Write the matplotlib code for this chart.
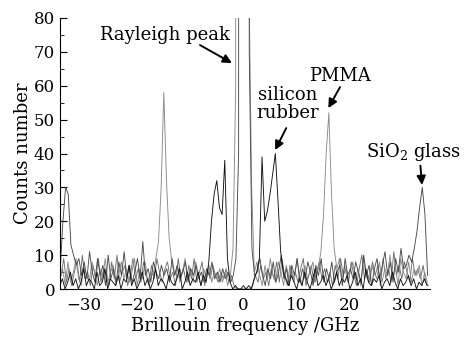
import numpy as np
import matplotlib
matplotlib.use("Agg")
import matplotlib.pyplot as plt
from matplotlib.ticker import MultipleLocator

plt.rcParams['font.family'] = ['DejaVu Serif']
plt.rcParams['mathtext.fontset'] = 'dejavuserif'

# spectra, 0.5 GHz sampling, first sample at x0
step = 0.5

pmma_x0 = -34.4
pmma_counts = [
    3, 6, 1, 8, 2, 5, 9, 3, 1, 7,
    4, 2, 8, 5, 1, 6, 3, 9, 2, 5,
    7, 1, 4, 8, 3, 6, 2, 5, 9, 1,
    6, 3, 8, 2, 5, 4, 9, 14, 30, 58,
    32, 15, 8, 4, 7, 2, 5, 9, 3, 6,
    2, 8, 4, 1, 6, 3, 7, 2, 5, 3,
    6, 2, 5, 1, 4, 12, 60, 5000, 5000, 5000,
    5000, 90, 30, 5, 8, 4, 1, 7, 3, 9,
    4, 2, 8, 5, 1, 7, 3, 6, 2, 9,
    4, 1, 7, 3, 5, 8, 2, 6, 11, 22,
    40, 52, 28, 12, 6, 9, 3, 7, 2, 5,
    8, 3, 6, 1, 9, 4, 2, 7, 5, 3,
    8, 2, 6, 4, 10, 3, 7, 1, 9, 5,
    3, 8, 2, 6, 4, 7, 1, 5, 2,
]

sio2_x0 = -34.35
sio2_counts = [
    6, 20, 30, 28, 13, 10, 7, 9, 4, 8,
    3, 11, 5, 2, 9, 4, 7, 1, 10, 3,
    6, 2, 8, 4, 11, 3, 7, 2, 5, 9,
    3, 14, 4, 6, 2, 8, 5, 3, 7, 4,
    6, 2, 9, 4, 7, 3, 5, 8, 2, 6,
    4, 7, 3, 5, 2, 6, 4, 8, 3, 5,
    2, 6, 3, 5, 2, 4, 9, 40, 5000, 5000,
    5000, 70, 12, 4, 5, 9, 4, 1, 6, 3,
    8, 2, 5, 10, 3, 6, 1, 7, 4, 9,
    2, 6, 3, 8, 5, 1, 7, 4, 9, 2,
    6, 3, 8, 2, 5, 7, 1, 9, 4, 6,
    3, 8, 5, 2, 10, 4, 7, 1, 6, 9,
    3, 7, 11, 4, 8, 2, 9, 5, 12, 6,
    7, 10, 8, 12, 17, 24, 30, 22, 4,
]

rubber_x0 = -34.45
rubber_counts = [
    1, 3, 0, 2, 5, 1, 3, 0, 2, 6,
    1, 3, 2, 0, 5, 1, 2, 6, 0, 3,
    2, 1, 4, 0, 3, 2, 7, 1, 3, 0,
    2, 5, 1, 3, 0, 2, 6, 1, 3, 2,
    0, 4, 2, 1, 3, 6, 0, 2, 5, 1,
    3, 2, 5, 1, 4, 2, 8, 20, 28, 32,
    24, 22, 38, 9, 2, 0, 1, 0, 0, 1,
    0, 1, 0, 3, 5, 9, 39, 20, 23, 28,
    34, 40, 26, 11, 5, 3, 1, 4, 2, 0,
    3, 1, 5, 2, 0, 3, 6, 1, 2, 4,
    1, 3, 0, 2, 5, 1, 3, 2, 4, 0,
    2, 5, 1, 3, 0, 6, 2, 1, 3, 2,
    4, 0, 2, 3, 1, 5, 2, 0, 3, 1,
    2, 4, 1, 3, 0, 2, 1, 3, 1,
]

# background-only run
blank_x0 = -34.2
blank_counts = [
    4, 9, 2, 6, 1, 5, 8, 2, 10, 3,
    5, 1, 7, 3, 9, 2, 6, 4, 1, 8,
    3, 10, 2, 5, 7, 1, 4, 9, 3, 6,
    2, 8, 4, 1, 7, 3, 9, 5, 2, 6,
    8, 3, 5, 1, 9, 4, 6, 2, 7, 3,
    9, 2, 5, 8, 1, 6, 3, 7, 4, 2,
    5, 3, 6, 2, 4, 1, 0, 0, 0, 0,
    0, 0, 1, 4, 2, 7, 3, 5, 1, 6,
    3, 8, 2, 9, 4, 1, 7, 3, 5, 2,
    6, 9, 1, 4, 7, 2, 5, 8, 3, 6,
    2, 5, 1, 7, 3, 9, 4, 6, 2, 8,
    4, 1, 6, 10, 3, 5, 2, 8, 4, 7,
    1, 9, 3, 6, 2, 11, 4, 7, 3, 8,
    5, 2, 9, 4, 6, 3, 7, 2, 1,
]

fig = plt.figure(figsize=(4.65, 3.42), dpi=100)
ax = fig.add_axes([60/465, 53/342, 370/465, 271/342])

for x0, counts, col in [(blank_x0, blank_counts, "#6e6e6e"),
                        (pmma_x0, pmma_counts, "#8a8a8a"),
                        (sio2_x0, sio2_counts, "#4a4a4a"),
                        (rubber_x0, rubber_counts, "#111111")]:
    xs = x0 + step*np.arange(len(counts))
    ax.plot(xs, counts, color=col, lw=0.65)

ax.set_xlim(-34.4, 35.1)
ax.set_ylim(0, 80)
ax.set_xticks([-30, -20, -10, 0, 10, 20, 30])
ax.set_xticklabels(["\u221230", "\u221220", "\u221210", "0", "10", "20", "30"])
ax.yaxis.set_major_locator(MultipleLocator(10))
ax.yaxis.set_minor_locator(MultipleLocator(5))
ax.tick_params(axis="both", which="both", direction="in", labelsize=12)
ax.tick_params(axis="y", which="major", length=5)
ax.tick_params(axis="y", which="minor", length=3)
ax.tick_params(axis="x", length=0, pad=6)
ax.spines["top"].set_visible(False)
ax.spines["right"].set_visible(False)

ax.set_xlabel("Brillouin frequency /GHz", fontsize=13)
ax.set_ylabel("Counts number", fontsize=13)
ax.xaxis.set_label_coords(0.5, -0.105)
ax.yaxis.set_label_coords(-0.075, 0.5)

arw = dict(arrowstyle="-|>", color="k", lw=1.4, mutation_scale=13, shrinkA=0, shrinkB=0)
ax.text(-14.6, 75, "Rayleigh peak", fontsize=13, ha="center", va="center")
ax.annotate("", xy=(-2.1, 66.7), xytext=(-8.1, 72), arrowprops=arw)
ax.text(8.3, 57.2, "silicon", fontsize=13, ha="center", va="center")
ax.text(8.3, 51.9, "rubber", fontsize=13, ha="center", va="center")
ax.annotate("", xy=(6.0, 41), xytext=(8.1, 47.5), arrowprops=arw)
ax.text(18.2, 62.8, "PMMA", fontsize=13, ha="center", va="center")
ax.annotate("", xy=(16.0, 53.4), xytext=(18.2, 59.6), arrowprops=arw)
ax.text(31.9, 40.4, "SiO$_2$ glass", fontsize=13, ha="center", va="center")
ax.annotate("", xy=(33.6, 30.7), xytext=(33.3, 36.4), arrowprops=arw)

plt.savefig("out.png", dpi=100)
plt.close()
